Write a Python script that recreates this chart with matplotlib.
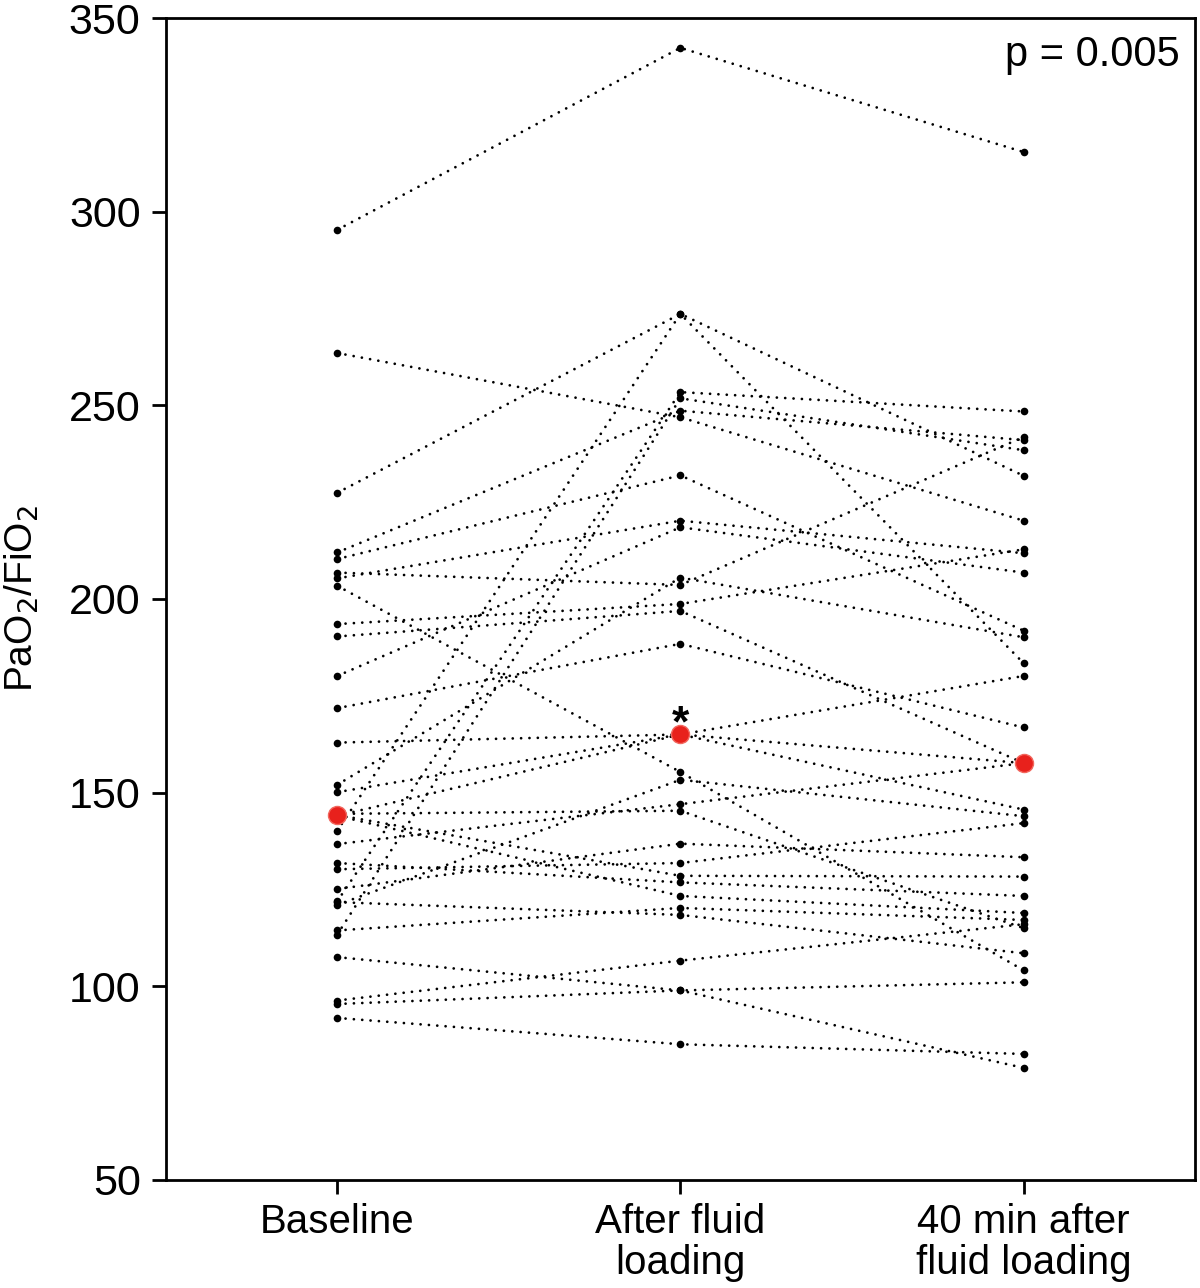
import matplotlib.pyplot as plt

plt.rcParams['font.family'] = ['Liberation Sans', 'DejaVu Sans']

groups = ["Baseline", "After fluid\nloading", "40 min after\nfluid loading"]

# PaO2/FiO2 per patient
baseline = [295.3, 227.4, 140.1, 121.9, 113.3, 212.0, 263.5, 210.3, 205.3, 180.1,
            152.0, 206.8, 193.5, 190.3, 171.8, 162.9, 144.0, 150.1, 203.4, 121.0,
            136.7, 144.5, 125.1, 130.2, 144.2, 131.8, 114.4, 121.7, 144.0, 96.3,
            107.5, 95.4, 91.8]
after = [342.3, 273.6, 273.6, 253.4, 251.8, 248.6, 246.9, 231.9, 220.2, 218.5,
         205.5, 203.6, 198.7, 196.9, 188.4, 165.0, 165.0, 165.0, 155.3, 153.3,
         147.0, 145.3, 136.8, 131.8, 128.5, 126.8, 120.2, 118.4, 123.3, 106.6,
         98.9, 98.9, 85.0]
min40 = [315.4, 231.8, 183.4, 248.4, 238.4, 241.0, 220.2, 191.8, 211.8, 206.8,
         190.1, 241.8, 212.8, 157.6, 166.8, 180.1, 157.6, 145.6, 104.1, 143.9,
         157.6, 115.0, 133.3, 142.1, 128.3, 123.3, 117.1, 108.5, 118.9, 116.0,
         101.0, 78.9, 82.5]

medians = [144.2, 165.0, 157.6]

fig, ax = plt.subplots(figsize=(12, 12.88), dpi=100)
fig.subplots_adjust(left=0.138, right=0.996, bottom=0.084, top=0.986)

xs = [0, 1, 2]
for b, a, m in zip(baseline, after, min40):
    ax.plot(xs, [b, a, m], color='black', linestyle=(0, (0.01, 3.0)), linewidth=2.0,
            dash_capstyle='round', marker='o', markersize=5.5,
            markerfacecolor='black', markeredgewidth=0)

ax.plot(xs, medians, linestyle='none', marker='o', markersize=13,
        markerfacecolor='#e8211c', markeredgecolor='#f2675e', markeredgewidth=1, zorder=5)

ax.text(1, 162.2, "*", ha='center', va='bottom', fontsize=32, fontweight='bold')
ax.text(0.985, 0.985, "p = 0.005", transform=ax.transAxes, ha='right', va='top', fontsize=30)

ax.set_xlim(-0.5, 2.5)
ax.set_ylim(50, 350)
ax.set_yticks(range(50, 351, 50))
ax.set_xticks(xs)
ax.set_xticklabels(groups, fontsize=29, linespacing=1.1)
ax.tick_params(axis='y', labelsize=31, length=10, width=2, direction='out', pad=8)
ax.tick_params(axis='x', length=10, width=2, direction='out', pad=7)
ax.set_ylabel("PaO$_2$/FiO$_2$", fontsize=28, labelpad=20)

for s in ax.spines.values():
    s.set_linewidth(2)

plt.savefig("out.png")
